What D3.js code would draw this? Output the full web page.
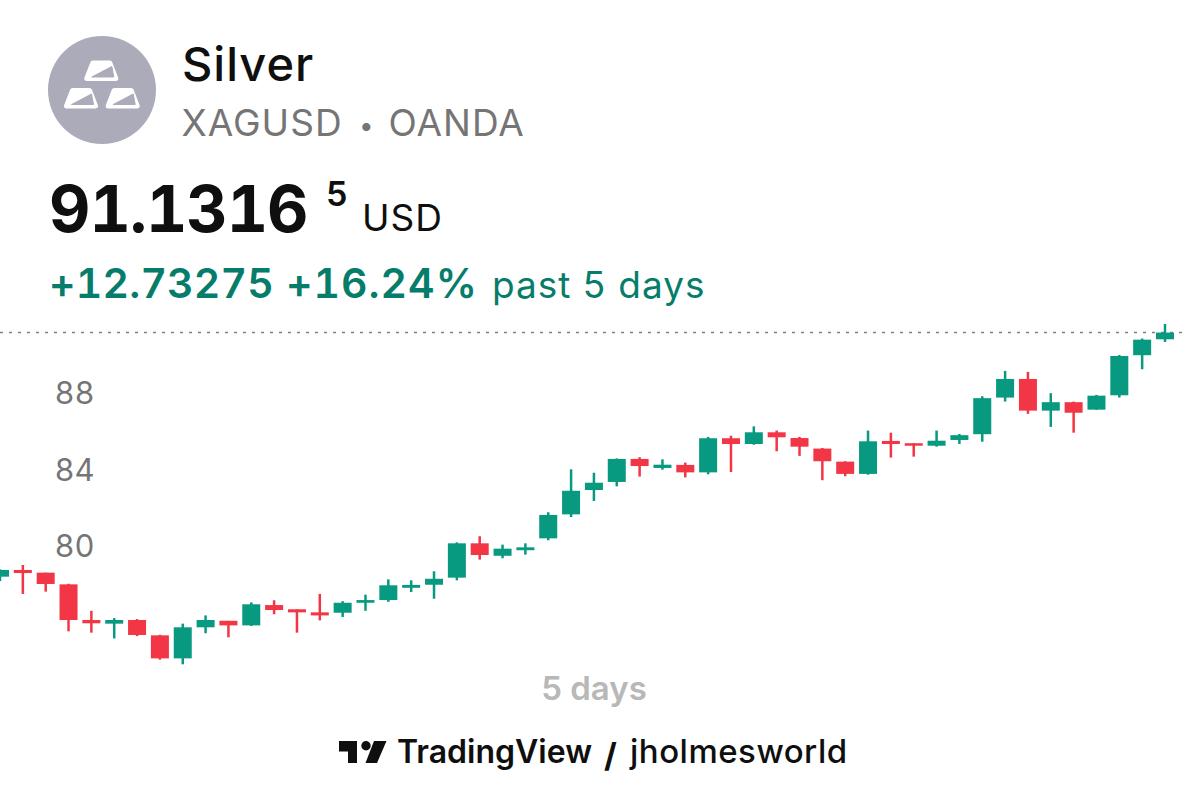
<!DOCTYPE html>
<html>
<head>
<meta charset="utf-8">
<script src="https://d3js.org/d3.v7.min.js"></script>
<style>
html, body { margin: 0; padding: 0; background: #fff; }
svg { display: block; }
text { font-family: Inter, "Liberation Sans", sans-serif; }
</style>
</head>
<body>
<svg id="chart" width="1188" height="786"></svg>
<script>
// values, oldest candle first
var opens = [78.40,78.75,78.61,78.00,76.14,75.95,76.14,75.34,74.14,75.76,76.10,75.86,76.92,76.70,76.54,76.52,77.04,77.18,77.82,77.98,78.35,80.14,79.49,79.78,80.40,81.65,82.92,83.34,84.54,84.07,84.23,83.84,85.62,85.32,85.93,85.63,85.08,84.40,83.76,85.48,85.36,85.23,85.53,85.83,87.74,88.71,87.06,87.50,87.11,87.86,89.95,90.78];
var highs = [78.78,79.01,78.61,78.03,76.62,76.24,76.19,75.37,75.95,76.38,76.10,77.06,77.17,76.70,77.50,77.12,77.46,78.26,78.21,78.68,80.19,80.51,80.07,80.14,81.76,84.00,83.82,84.57,84.63,84.52,84.35,85.69,85.75,86.24,86.02,85.69,85.11,84.42,86.02,85.91,85.36,86.02,85.84,87.81,89.13,89.08,87.97,87.53,87.88,89.96,90.82,91.58];
var lows = [78.17,77.50,77.62,75.55,75.48,75.18,75.30,74.07,73.83,75.45,75.24,75.83,76.44,75.48,76.12,76.30,76.62,77.09,77.60,77.25,78.21,79.29,79.36,79.55,80.30,81.51,82.35,83.11,83.62,83.98,83.58,83.74,83.86,85.28,84.94,84.70,83.43,83.64,83.72,84.61,84.66,85.18,85.32,85.44,87.53,86.89,86.21,85.91,87.10,87.74,89.22,90.64];
var closes = [78.75,78.59,78.02,76.14,75.97,76.14,75.36,74.14,75.76,76.14,75.86,76.96,76.66,76.54,76.38,77.04,77.18,77.95,77.97,78.29,80.14,79.53,79.86,79.93,81.62,82.88,83.30,84.54,84.17,84.24,83.84,85.62,85.32,85.93,85.67,85.18,84.42,83.76,85.46,85.32,85.23,85.49,85.78,87.71,88.71,87.06,87.50,86.95,87.84,89.91,90.76,91.13];
var yTicks = [80, 84, 88];
var lastPrice = 91.1316;

var green = "#089981", red = "#F23645";
var textGreen = "#067D6B", grey = "#757575", dark = "#0F0F0F";

var svg = d3.select("#chart");

var xScale = d3.scaleLinear().domain([0, opens.length - 1]).range([0, 1165]);
var yScale = d3.scaleLinear().domain([80, 88]).range([546, 392.6]);

// header icon
var icon = svg.append("g");
icon.append("circle").attr("cx", 102).attr("cy", 90).attr("r", 54).style("fill", "#ABABBA");
[[84.3, 60.5], [64, 88], [105.7, 88]].forEach(function (p) {
    var g = icon.append("g").attr("transform", "translate(" + p[0] + "," + p[1] + ")");
    g.append("path")
        .attr("d", "M8.5,2.5 L25.5,2.5 L31.5,18 L2.5,18 Z")
        .style("fill", "#fff")
        .style("stroke", "#fff")
        .style("stroke-width", 5)
        .style("stroke-linejoin", "round");
    g.append("path")
        .attr("d", "M27.5,6 L29.5,16.5 L7.5,16.5 Z")
        .style("fill", "#ABABBA")
        .style("stroke", "#ABABBA")
        .style("stroke-width", 1)
        .style("stroke-linejoin", "round");
});

// header text
function label(x, y, str, size, weight, color, spacing) {
    return svg.append("text").attr("x", x).attr("y", y).text(str)
        .style("font-size", size + "px")
        .style("font-weight", weight)
        .style("letter-spacing", (spacing || 0) + "px")
        .style("font-variant-numeric", "tabular-nums")
        .style("fill", color);
}
label(182, 81, "Silver", 47, 500, dark, 1);
label(181.5, 136, "XAGUSD", 37, 400, grey, 1);
label(359, 135, "•", 26, 400, grey);
label(388.5, 136, "OANDA", 37, 400, grey, 1);
label(49, 232, "91.1316", 64, 700, dark, -1);
label(326, 206, "5", 34, 600, dark);
label(362, 231, "USD", 37, 400, dark, 1);
label(49, 298, "+12.73275", 41, 600, textGreen, 0.2);
label(286, 298, "+16.24%", 41, 600, textGreen, 1);
label(492, 298, "past 5 days", 37, 400, textGreen, 1);

// last price line
svg.append("line")
    .attr("x1", 0).attr("x2", 1188)
    .attr("y1", yScale(lastPrice)).attr("y2", yScale(lastPrice))
    .style("stroke", "#808080")
    .style("stroke-width", 1.5)
    .style("stroke-dasharray", "3 6");

// y axis labels
var yAxis = d3.axisRight(yScale).tickValues(yTicks).tickSize(0).tickPadding(0);
var axisG = svg.append("g").attr("transform", "translate(54.5,1)").call(yAxis);
axisG.select(".domain").remove();
axisG.selectAll("text")
    .style("font-family", "Inter, sans-serif")
    .style("font-size", "31px")
    .style("font-variant-numeric", "tabular-nums")
    .style("fill", grey);

// candles
var candles = svg.append("g").selectAll("g")
    .data(opens)
    .enter().append("g")
    .style("fill", function (d, i) { return closes[i] >= d ? green : red; });

candles.append("rect")
    .attr("x", function (d, i) { return xScale(i) - 1.25; })
    .attr("width", 2.5)
    .attr("y", function (d, i) { return yScale(highs[i]); })
    .attr("height", function (d, i) { return yScale(lows[i]) - yScale(highs[i]); });

candles.append("rect")
    .attr("x", function (d, i) { return xScale(i) - 9; })
    .attr("width", 18)
    .attr("y", function (d, i) { return yScale(Math.max(d, closes[i])); })
    .attr("height", function (d, i) { return Math.abs(yScale(d) - yScale(closes[i])); });

// footer
svg.append("text").attr("x", 594).attr("y", 700).text("5 days")
    .attr("text-anchor", "middle")
    .style("font-size", "33px")
    .style("font-weight", 600)
    .style("fill", "#B8B8B8");

// logo
var logo = svg.append("g").attr("transform", "translate(339,741)").style("fill", "#0F0F0F");
logo.append("path").attr("d", "M0,0 H18 V22 H9 V10.5 H0 Z");
logo.append("circle").attr("cx", 27).attr("cy", 4.7).attr("r", 4.7);
logo.append("path").attr("d", "M35,0 H47.5 L38,22 H26.5 Z");

label(397, 763, "TradingView", 32, 600, dark);
label(604, 767, "/", 33, 700, dark);
label(630, 763, "jholmesworld", 33, 500, dark, 0.5);
</script>
</body>
</html>
